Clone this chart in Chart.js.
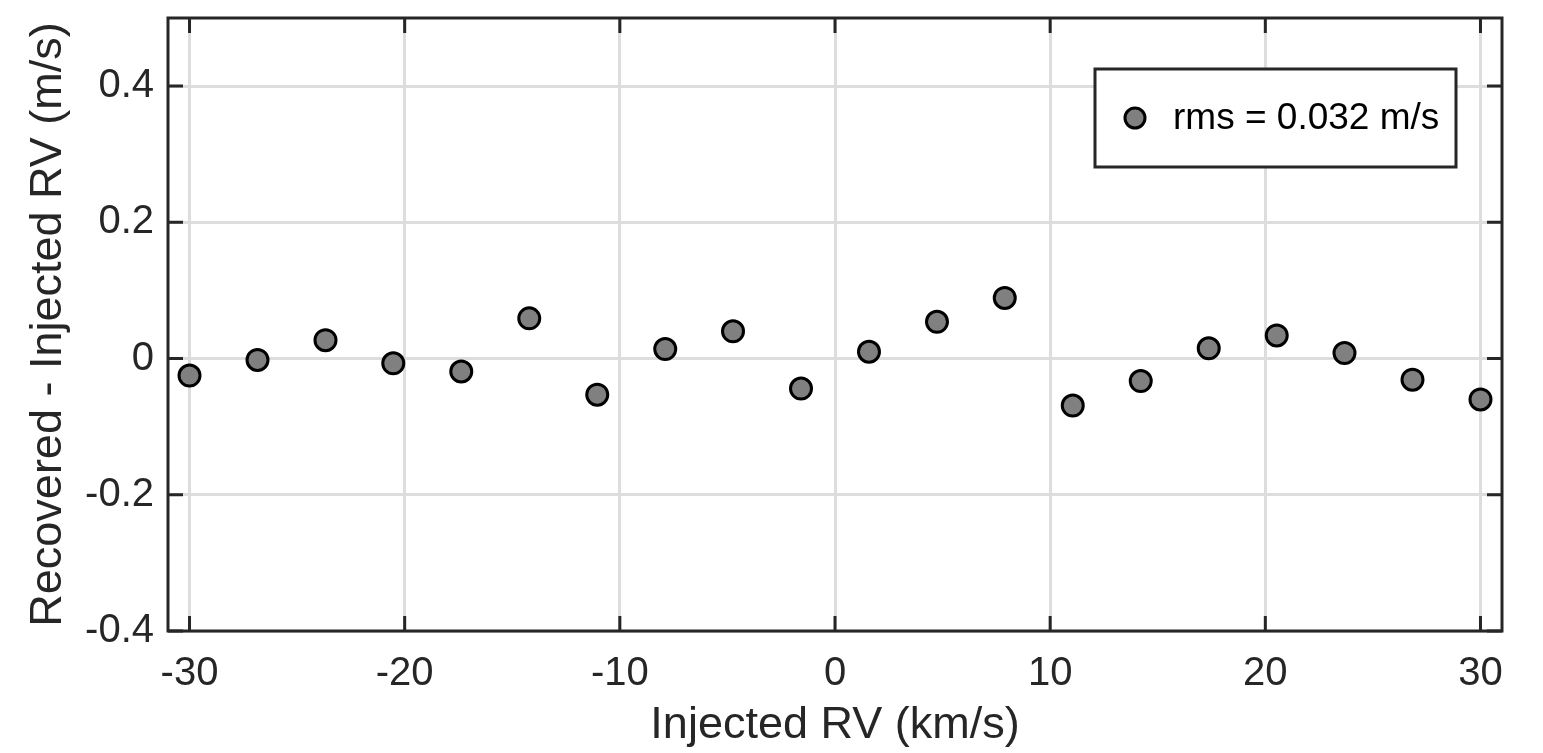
<!DOCTYPE html>
<html>
<head>
<meta charset="utf-8">
<script src="https://cdn.jsdelivr.net/npm/chart.js@4"></script>
<style>
html,body{margin:0;padding:0;background:#fff;}
canvas{display:block;}
</style>
</head>
<body>
<canvas id="c" width="1543" height="753"></canvas>
<script>
const injectedRV = [-30, -26.84, -23.68, -20.53, -17.37, -14.21, -11.05, -7.89, -4.74, -1.58,
                    1.58, 4.74, 7.89, 11.05, 14.21, 17.37, 20.53, 23.68, 26.84, 30];
const residualRV = [-0.025, -0.002, 0.027, -0.007, -0.019, 0.059, -0.053, 0.014, 0.040, -0.044,
                    0.010, 0.054, 0.089, -0.069, -0.033, 0.015, 0.034, 0.008, -0.031, -0.060];
const xTicks = [-30, -20, -10, 0, 10, 20, 30];
const yTicks = [-0.4, -0.2, 0, 0.2, 0.4];
const seriesLabel = 'rms = 0.032 m/s';
const xTitle = 'Injected RV (km/s)';
const yTitle = 'Recovered - Injected RV (m/s)';

const FONT = '"Liberation Sans", Arial, Helvetica, sans-serif';
const AX = '#262626';

const points = injectedRV.map((x, i) => ({x: x, y: residualRV[i]}));

const framePlugin = {
  id: 'frame',
  afterDraw(chart) {
    const ctx = chart.ctx;
    const a = chart.chartArea;
    const xs = chart.scales.x, ys = chart.scales.y;
    const tl = 15;
    ctx.save();
    ctx.strokeStyle = AX;
    ctx.lineWidth = 3;
    ctx.lineCap = 'butt';
    ctx.beginPath();
    xs.ticks.forEach(t => {
      const px = xs.getPixelForValue(t.value);
      ctx.moveTo(px, a.bottom); ctx.lineTo(px, a.bottom - tl);
      ctx.moveTo(px, a.top); ctx.lineTo(px, a.top + tl);
    });
    ys.ticks.forEach(t => {
      const py = ys.getPixelForValue(t.value);
      ctx.moveTo(a.left, py); ctx.lineTo(a.left + tl, py);
      ctx.moveTo(a.right, py); ctx.lineTo(a.right - tl, py);
    });
    ctx.stroke();
    ctx.strokeRect(a.left, a.top, a.right - a.left, a.bottom - a.top);

    // legend box
    const ds = chart.data.datasets[0];
    const bx = a.right - 407, by = a.top + 51, bw = 361, bh = 98;
    ctx.fillStyle = '#ffffff';
    ctx.fillRect(bx, by, bw, bh);
    ctx.strokeStyle = AX;
    ctx.lineWidth = 3;
    ctx.strokeRect(bx, by, bw, bh);
    ctx.beginPath();
    ctx.arc(bx + 40, by + 49, 10, 0, Math.PI * 2);
    ctx.fillStyle = ds.backgroundColor;
    ctx.fill();
    ctx.lineWidth = 3;
    ctx.strokeStyle = ds.borderColor;
    ctx.stroke();
    ctx.fillStyle = '#000';
    ctx.font = '37px ' + FONT;
    ctx.textBaseline = 'middle';
    ctx.textAlign = 'left';
    ctx.fillText(ds.label, bx + 78, by + 50);
    ctx.restore();
  }
};

new Chart(document.getElementById('c'), {
  type: 'scatter',
  data: {
    datasets: [{
      label: seriesLabel,
      data: points,
      backgroundColor: '#808080',
      borderColor: '#000000',
      borderWidth: 3,
      pointRadius: 10.5,
      pointHoverRadius: 10.5
    }]
  },
  options: {
    responsive: false,
    animation: false,
    devicePixelRatio: 1,
    layout: {padding: {top: 18, right: 41, left: 0, bottom: 0}},
    plugins: {legend: {display: false}, tooltip: {enabled: false}},
    scales: {
      x: {
        type: 'linear',
        min: -31, max: 31,
        afterBuildTicks(s) { s.ticks = xTicks.map(v => ({value: v})); },
        afterFit(s) { s.height = 122; s.paddingLeft = 0; s.paddingRight = 0; },
        grid: {color: '#dddddd', lineWidth: 3, drawTicks: false},
        border: {display: false},
        ticks: {
          color: AX, padding: 19,
          font: {family: FONT, size: 40},
          callback: v => String(v)
        },
        title: {
          display: true, text: xTitle, color: AX,
          font: {family: FONT, size: 45},
          padding: {top: 0, bottom: 0}
        }
      },
      y: {
        type: 'linear',
        min: -0.4, max: 0.5,
        afterBuildTicks(s) { s.ticks = yTicks.map(v => ({value: v})); },
        afterFit(s) { s.width = 168; s.paddingTop = 0; s.paddingBottom = 0; },
        grid: {color: '#dddddd', lineWidth: 3, drawTicks: false},
        border: {display: false},
        ticks: {
          color: AX, padding: 14,
          font: {family: FONT, size: 40},
          callback: v => String(Math.round(v * 10) / 10)
        },
        title: {
          display: true, text: yTitle, color: AX,
          font: {family: FONT, size: 45},
          padding: {top: 22, bottom: 0}
        }
      }
    }
  },
  plugins: [framePlugin]
});
</script>
</body>
</html>
